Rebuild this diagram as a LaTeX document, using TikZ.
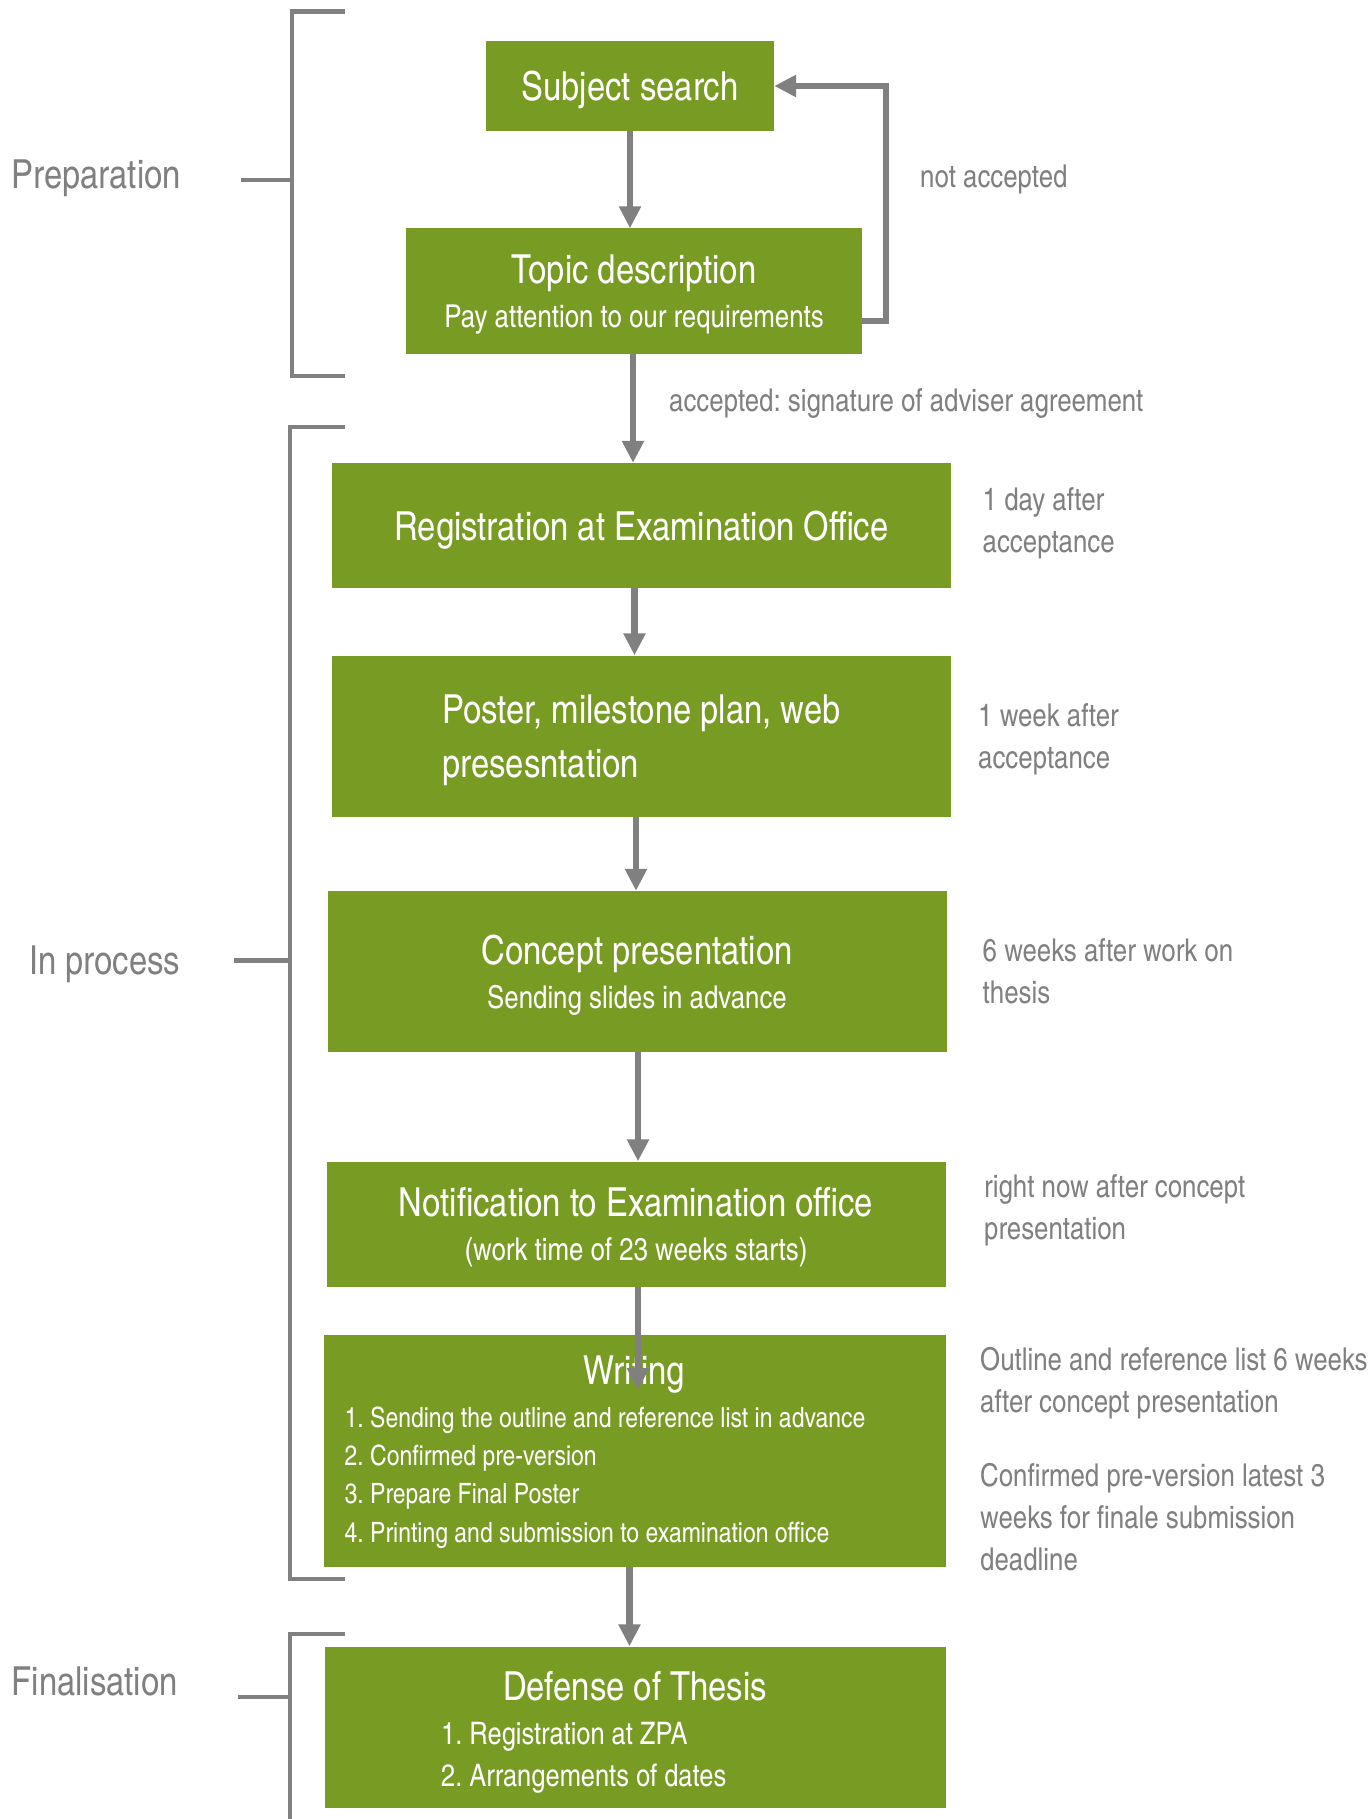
\documentclass[tikz,border=0pt]{standalone}
\usepackage{fontspec}
\setmainfont{texgyreheroscn}[Extension=.otf,UprightFont=*-regular,BoldFont=*-bold]
\usetikzlibrary{arrows.meta}
\frenchspacing
\definecolor{leaf}{HTML}{789B24}
\definecolor{ash}{HTML}{808080}
\tikzset{every node/.style={inner sep=0pt}}
\tikzset{stage/.style={rectangle,fill=leaf,text=white,minimum width=619,minimum height=125,text depth=0pt,align=center,font=\fontsize{40}{44}\selectfont}}
\tikzset{steps/.style={text=white,anchor=west,align=left}}
\tikzset{note/.style={text=ash,anchor=west,align=left,font=\fontsize{31.5}{42}\selectfont}}
\tikzset{phase/.style={text=ash,anchor=west,font=\fontsize{40}{44}\selectfont}}
\tikzset{flow/.style={ash,line width=6.5,-{Triangle[width=21,length=22]}}}
\tikzset{brace/.style={ash,line width=4.5}}
\newcommand\boxsub{\fontsize{31.5}{38}\selectfont}

\begin{document}
\begin{tikzpicture}[x=1pt,y=-1pt]
  \useasboundingbox (0,0) rectangle (1371,1819);
  \node[stage,minimum width=288,minimum height=90] (subj) at (630,86) {Subject search};
  \node[stage,minimum width=456] (topic) at (634,291)
    {Topic description\\{\boxsub Pay attention to our requirements}};
  \node[stage] (reg) at (641.5,525.5) {Registration at Examination Office};
  \node[stage,minimum height=161,align=left,font=\fontsize{40}{54}\selectfont] (poster) at (641.5,736)
    {Poster, milestone plan, web\\presesntation};
  \node[stage,minimum height=161] (concept) at (637,971.5)
    {Concept presentation\\{\boxsub Sending slides in advance}};
  \node[stage] (notif) at (636,1224)
    {Notification to Examination office\\{\boxsub (work time of 23 weeks starts)}};
  \node[stage,minimum width=622,minimum height=232] (writing) at (634.5,1451) {};
  \node[text=white,font=\fontsize{40}{44}\selectfont] (writingT) at (634.5,1375) {Writing};
  \node[steps,font=\fontsize{28}{38.3}\selectfont] (writingL) at (344.5,1477.5)
    {1. Sending the outline and reference list in advance\\2. Confirmed pre-version\\3. Prepare Final Poster\\4. Printing and submission to examination office};
  \node[stage,minimum width=621,minimum height=161] (defense) at (635,1727) {};
  \node[text=white,font=\fontsize{40}{44}\selectfont] (defenseT) at (635,1686) {Defense of Thesis};
  \node[steps,font=\fontsize{31}{42}\selectfont] (defenseL) at (441,1757.5)
    {1. Registration at ZPA\\2. Arrangements of dates};

  \node[phase] (prep) at (11.6,178.5) {Preparation};
  \node[phase] (inproc) at (29,964.5) {In process};
  \node[phase] (final) at (11.6,1681) {Finalisation};

  \node[note] (noacc) at (920,179.5) {not accepted};
  \node[note] (acc) at (669,403) {accepted: signature of adviser agreement};
  \node[note] (t1) at (982.5,523) {1 day after\\acceptance};
  \node[note] (t2) at (978,739) {1 week after\\acceptance};
  \node[note] (t3) at (982.5,971) {6 weeks after work on\\thesis};
  \node[note] (t4) at (984,1210) {right now after concept\\presentation};
  \node[note] (t5) at (980,1383) {Outline and reference list 6 weeks\\after concept presentation};
  \node[note] (t6) at (980,1517) {Confirmed pre-version latest 3\\weeks for finale submission\\deadline};

  \foreach \a/\b/\x in {subj/topic/630,topic/reg/633,reg/poster/634.5,poster/concept/636,concept/notif/638,writing/defense/629.5}
    \draw[flow] (\a.south -| \x,0) -- (\b.north -| \x,0);
  \coordinate (wtip) at (638,1390);
  \draw[flow] (notif.south -| wtip) -- (wtip);
  \draw[flow] (topic.east |- 0,321) -- (886,321) |- (subj.east);

  \draw[brace] (344.5,11.6) -| (292,376) -- (344.5,376);
  \draw[brace] (241,180) -- (292,180);
  \draw[brace] (344.5,427) -| (290,1579) -- (344.5,1579);
  \draw[brace] (234,960.5) -- (290,960.5);
  \draw[brace] (344.5,1634) -| (290,1819);
  \draw[brace] (238,1697) -- (290,1697);
\end{tikzpicture}
\end{document}
